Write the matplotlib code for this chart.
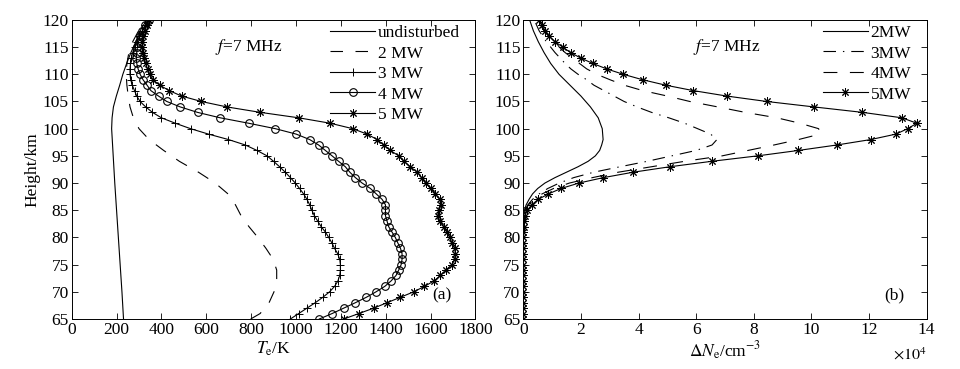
import matplotlib
matplotlib.use("Agg")
import matplotlib.pyplot as plt

plt.rcParams["font.family"] = ["Liberation Serif", "DejaVu Serif"]
plt.rcParams["mathtext.fontset"] = "stix"
plt.rcParams["lines.scale_dashes"] = False

# ---- (a) electron temperature, K ----
H = list(range(65, 121))  # 1 km grid used by marked curves

H_undist = [65, 70, 75, 80, 85, 90, 95, 100, 102, 104, 106, 108, 110, 112, 114, 116, 118, 120]
te_undist = [231, 224, 216, 208, 200, 192, 185, 178, 180, 186, 199, 214, 228, 245, 264, 286, 305, 334]

H_2mw = [65, 66, 68, 70, 72, 74, 76, 78, 80, 82, 84, 86, 88, 90, 92, 94, 96, 98, 100,
         102, 104, 106, 108, 110, 112, 114, 116, 118, 120]
te_2mw = [798, 840, 880, 902, 914, 914, 898, 866, 830, 790, 755, 730, 697, 640, 565, 480,
          410, 345, 300, 275, 260, 252, 246, 243, 246, 255, 272, 298, 330]

te_3mw = [975, 1012, 1049, 1086, 1120, 1150, 1172, 1187, 1195, 1198, 1198,
          1195, 1186, 1172, 1160, 1146, 1131, 1112, 1097, 1082, 1071, 1061,
          1049, 1034, 1016, 997, 975, 952, 927, 900, 871, 826, 774,
          699, 610, 530, 462, 400, 360, 330, 305, 290, 280, 270,
          263, 260, 260, 262, 266, 272, 280, 290, 302, 315, 328, 343]

te_4mw = [1104, 1161, 1213, 1265, 1314, 1357, 1396, 1424, 1446, 1458, 1469,
          1473, 1473, 1466, 1454, 1443, 1428, 1413, 1406, 1399, 1399, 1399,
          1384, 1358, 1332, 1295, 1265, 1240, 1220, 1190, 1161, 1131, 1101,
          1061, 1001, 908, 789, 662, 561, 484, 424, 387, 353, 336,
          318, 305, 296, 290, 288, 290, 293, 298, 305, 315, 328, 345]

te_5mw = [1213, 1280, 1347, 1406, 1466, 1525, 1573, 1615, 1644, 1667, 1696,
          1707, 1711, 1707, 1696, 1686, 1674, 1659, 1641, 1632, 1637, 1647,
          1641, 1622, 1600, 1578, 1560, 1540, 1510, 1481, 1458, 1421, 1391,
          1362, 1317, 1253, 1153, 1012, 841, 692, 578, 490, 435, 392,
          362, 348, 338, 330, 322, 318, 315, 315, 318, 325, 335, 345]

# ---- (b) electron density change, 1e4 cm^-3 ----
Hb_2mw = [65, 83, 84, 85, 86, 87, 88, 89, 90, 91, 92, 93, 94, 95, 96, 97, 98, 100,
          102, 104, 106, 108, 110, 112, 114, 116, 118, 120]
dn_2mw = [0, 0, 0.01, 0.04, 0.10, 0.20, 0.32, 0.50, 0.75, 1.10, 1.50, 1.90, 2.25, 2.50,
          2.65, 2.72, 2.77, 2.74, 2.60, 2.33, 2.00, 1.62, 1.24, 0.95, 0.72, 0.52, 0.35, 0.22]

Hb_3mw = [65, 83, 84, 85, 86, 87, 88, 89, 90, 91, 92, 93, 94, 95, 96, 97, 98, 99, 100,
          101, 102, 103, 104, 105, 106, 107, 108, 109, 110, 111, 112, 114, 116, 118, 120]
dn_3mw = [0, 0, 0.02, 0.06, 0.16, 0.32, 0.55, 0.85, 1.25, 1.75, 2.45, 3.36, 4.30, 5.15,
          6.00, 6.55, 6.72, 6.50, 6.05, 5.60, 5.05, 4.45, 3.95, 3.50, 3.15, 2.80, 2.45,
          2.20, 1.90, 1.65, 1.45, 1.10, 0.80, 0.55, 0.38]

Hb_4mw = [65, 83, 84, 85, 86, 87, 88, 89, 90, 91, 92, 93, 94, 95, 96, 97, 98, 99, 100,
          101, 102, 103, 104, 105, 106, 107, 108, 109, 110, 111, 112, 114, 116, 118, 120]
dn_4mw = [0, 0.01, 0.02, 0.07, 0.18, 0.38, 0.65, 1.05, 1.60, 2.40, 3.30, 4.45, 5.60,
          6.90, 7.80, 8.70, 9.55, 10.30, 10.25, 9.60, 8.80, 7.70, 6.75, 5.78, 5.00,
          4.15, 3.50, 3.01, 2.55, 2.20, 1.95, 1.45, 1.05, 0.72, 0.48]

dn_5mw = [0, 0, 0, 0, 0, 0, 0, 0, 0, 0, 0,
          0, 0, 0, 0, 0, 0, 0.01, 0.02, 0.06, 0.14, 0.29,
          0.52, 0.87, 1.31, 1.93, 2.78, 3.82, 5.09, 6.54, 8.13, 9.55, 10.88,
          12.06, 12.93, 13.34, 13.66, 13.14, 11.77, 10.09, 8.45, 7.06, 5.90, 4.94,
          4.14, 3.47, 2.89, 2.41, 1.99, 1.64, 1.37, 1.10, 0.90, 0.76, 0.64, 0.56]

FS = 12.5
STAR = (8, 2, 0)  # matlab-like asterisk
fig = plt.figure(figsize=(9.6, 3.69), dpi=100)
ax1 = fig.add_axes([0.0747, 0.1355, 0.4205, 0.8105])
ax2 = fig.add_axes([0.5451, 0.1355, 0.4202, 0.8105])

lw = 0.8
ax1.plot(te_undist, H_undist, "k-", lw=lw, label="undisturbed")
ax1.plot(te_2mw, H_2mw, "k", lw=lw, dashes=[9, 9], label="2 MW")
ax1.plot(te_3mw, H, "k-", lw=lw, marker="+", ms=6, mew=0.7, label="3 MW")
ax1.plot(te_4mw, H, "k-", lw=lw, marker="o", ms=5.5, mfc="none", mew=0.8, label="4 MW")
ax1.plot(te_5mw, H, "k-", lw=lw, marker=STAR, ms=6, mew=0.7, label="5 MW")

ax2.plot(dn_2mw, Hb_2mw, "k-", lw=lw, label="2MW")
ax2.plot(dn_3mw, Hb_3mw, "k", lw=lw, dashes=[9, 5, 1, 5], label="3MW")
ax2.plot(dn_4mw, Hb_4mw, "k", lw=lw, dashes=[10, 9], label="4MW")
ax2.plot(dn_5mw, H, "k-", lw=lw, marker=STAR, ms=6, mew=0.7, label="5MW")

ax1.set_xlim(0, 1800)
ax1.set_xticks(range(0, 1801, 200))
ax2.set_xlim(0, 14)
ax2.set_xticks(range(0, 15, 2))
for ax in (ax1, ax2):
    ax.set_ylim(65, 120)
    ax.set_yticks(range(65, 121, 5))
    ax.tick_params(direction="in", top=True, right=True, length=4, width=0.6,
                   labelsize=FS, pad=2)
    for s in ax.spines.values():
        s.set_linewidth(0.7)
    ax.text(0.355 if ax is ax1 else 0.42, 0.895, r"$f$=7 MHz", transform=ax.transAxes,
            fontsize=FS)

ax1.set_ylabel("Height/km", fontsize=FS, labelpad=2)
ax1.set_xlabel(r"$T_{\rm e}$/K", fontsize=FS, labelpad=1)
ax2.set_xlabel(r"$\Delta N_{\rm e}$/cm$^{-3}$", fontsize=FS, labelpad=1)
ax2.text(1.0, -0.095, r"$\times10^4$", transform=ax2.transAxes, ha="right", va="top",
         fontsize=FS - 1)

ax1.text(0.94, 0.065, "(a)", transform=ax1.transAxes, ha="right", fontsize=FS)
ax2.text(0.945, 0.065, "(b)", transform=ax2.transAxes, ha="right", fontsize=FS)

ax1.legend(loc="upper right", bbox_to_anchor=(0.97, 0.995), frameon=False,
           fontsize=FS, handlelength=2.6, handletextpad=0.15, labelspacing=0.25,
           borderaxespad=0, borderpad=0.2)
ax2.legend(loc="upper right", bbox_to_anchor=(0.97, 0.995), frameon=False,
           fontsize=FS, handlelength=2.6, handletextpad=0.15, labelspacing=0.25,
           borderaxespad=0, borderpad=0.2)

fig.savefig("out.png", dpi=100)
